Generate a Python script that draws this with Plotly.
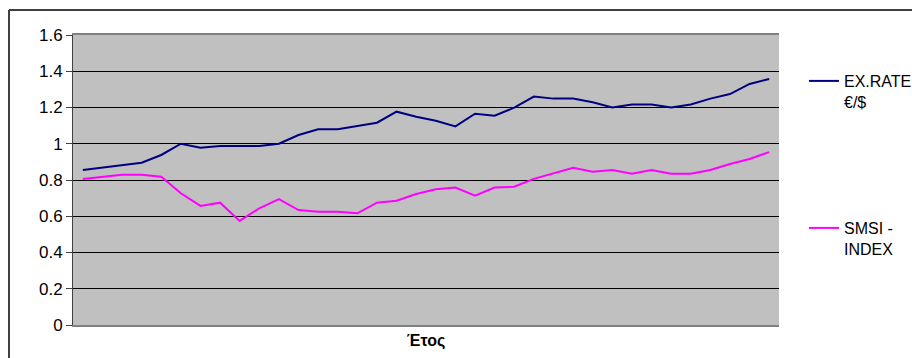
import plotly.graph_objects as go

# Observation index (x axis shows no category labels, only the title "Έτος")
periods = list(range(1, 37))

ex_rate = [0.855, 0.867, 0.879, 0.895, 0.938, 1.00, 0.978, 0.988, 0.988, 0.988,
           1.00, 1.048, 1.08, 1.08, 1.098, 1.116, 1.177, 1.149, 1.127, 1.096,
           1.166, 1.155, 1.199, 1.26, 1.249, 1.249, 1.229, 1.20, 1.217, 1.217,
           1.20, 1.217, 1.249, 1.274, 1.33, 1.357]

smsi_index = [0.805, 0.817, 0.829, 0.829, 0.818, 0.727, 0.657, 0.675, 0.574, 0.644,
              0.695, 0.634, 0.625, 0.625, 0.616, 0.675, 0.686, 0.723, 0.749, 0.758,
              0.714, 0.758, 0.763, 0.806, 0.837, 0.868, 0.846, 0.855, 0.835, 0.855,
              0.835, 0.835, 0.855, 0.888, 0.916, 0.954]

y_ticks = [0, 0.2, 0.4, 0.6, 0.8, 1.0, 1.2, 1.4, 1.6]
y_tick_labels = ["0", "0.2", "0.4", "0.6", "0.8", "1", "1.2", "1.4", "1.6"]

FONT = "Liberation Sans, Arial, sans-serif"

fig = go.Figure()
fig.add_trace(go.Scatter(x=periods, y=ex_rate, mode="lines", name="EX.RATE<br>€/$",
                         line=dict(color="#000080", width=2), legend="legend"))
fig.add_trace(go.Scatter(x=periods, y=smsi_index, mode="lines", name="SMSI -<br>INDEX",
                         line=dict(color="#FF00FF", width=2), legend="legend2"))

L, R, T, B = 73, 133, 35, 33
W, H = 912, 358
pw, ph = W - L - R, H - T - B


def px_x(p):
    return (p - L) / pw


def px_y(p):
    return (H - B - p) / ph


fig.update_layout(
    width=W, height=H,
    margin=dict(l=L, r=R, t=T, b=B, autoexpand=False),
    paper_bgcolor="white",
    plot_bgcolor="#C0C0C0",
    font=dict(family=FONT, size=16, color="black"),
    xaxis=dict(
        type="linear", range=[0.5, 36.5], showticklabels=False, showgrid=False,
        zeroline=False, ticks="", showline=True, linecolor="#808080", linewidth=2,
        mirror=True,
        title=dict(text="<b>Έτος</b>", font=dict(family=FONT, size=16, color="black"),
                   standoff=9),
    ),
    yaxis=dict(
        range=[0, 1.6], tickvals=y_ticks, ticktext=y_tick_labels,
        showgrid=True, gridcolor="black", gridwidth=1, zeroline=False,
        ticks="outside", ticklen=6, tickcolor="#404040", tickwidth=1,
        showline=True, linecolor="#404040", linewidth=1,
        tickfont=dict(family=FONT, size=17, color="black"),
    ),
    legend=dict(x=px_x(804), y=px_y(64), xanchor="left", yanchor="top",
                valign="top", bgcolor="rgba(0,0,0,0)", borderwidth=0,
                font=dict(family=FONT, size=16, color="black")),
    legend2=dict(x=px_x(804), y=px_y(211), xanchor="left", yanchor="top",
                 valign="top", bgcolor="rgba(0,0,0,0)", borderwidth=0,
                 font=dict(family=FONT, size=16, color="black")),
    showlegend=True,
    shapes=[
        dict(type="line", xref="paper", yref="paper", x0=px_x(9), x1=px_x(9),
             y0=px_y(H + 5), y1=px_y(10), line=dict(color="#404040", width=2)),
        dict(type="line", xref="paper", yref="paper", x0=px_x(9), x1=px_x(W + 5),
             y0=px_y(10), y1=px_y(10), line=dict(color="#404040", width=2)),
    ],
)

fig.write_html("out.html", config={"displayModeBar": False})

# remove the default page margin so the figure sits at the window's top-left corner
with open("out.html", encoding="utf-8") as fh:
    html = fh.read()
html = html.replace("<head>", "<head><style>html,body{margin:0;padding:0;overflow:hidden;}</style>", 1)
with open("out.html", "w", encoding="utf-8") as fh:
    fh.write(html)
